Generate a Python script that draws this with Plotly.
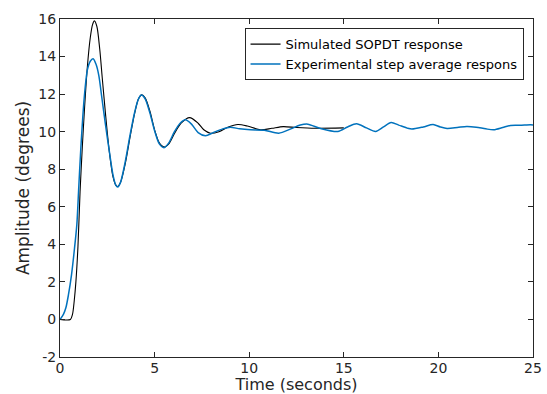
import plotly.graph_objects as go

# Simulated SOPDT response
sim_t = [0, 0.55, 0.66, 0.75, 0.84, 0.95, 1.06, 1.18, 1.3, 1.45, 1.6, 1.72, 1.82, 1.95, 2.1, 2.23,
         2.4, 2.6, 2.8, 2.95, 3.05, 3.2, 3.45, 3.7, 3.95, 4.15, 4.32, 4.5, 4.75, 5.0, 5.25, 5.5,
         5.75, 6.05, 6.4, 6.85, 7.3, 7.6, 7.95, 8.4, 8.9, 9.4, 9.9, 10.6, 11.2, 11.8, 12.5, 13.5, 15.0]
sim_y = [0, 0, 0.27, 0.97, 2.0, 3.9, 6.8, 9.2, 11.3, 13.5, 15.0, 15.7, 15.9, 15.6, 14.4, 12.9,
         11.0, 9.0, 7.6, 7.15, 7.08, 7.3, 8.3, 9.7, 11.0, 11.75, 11.96, 11.8, 11.1, 10.1, 9.4, 9.18,
         9.35, 9.9, 10.45, 10.75, 10.45, 10.1, 9.92, 10.0, 10.25, 10.38, 10.3, 10.1, 10.18, 10.27, 10.22, 10.18, 10.2]

# Experimental step average response
exp_t = [0, 0.18, 0.31, 0.45, 0.61, 0.75, 0.89, 0.98, 1.1, 1.28, 1.45, 1.6, 1.75, 1.9, 2.05, 2.2,
         2.4, 2.6, 2.8, 2.95, 3.05, 3.2, 3.45, 3.7, 3.95, 4.15, 4.3, 4.5, 4.75, 5.0, 5.25, 5.5,
         5.75, 6.05, 6.35, 6.63, 6.95, 7.3, 7.69, 8.1, 8.6, 9.0, 9.5, 10.07, 10.8, 11.56, 12.2,
         12.7, 13.1, 13.77, 14.68, 15.2, 15.67, 16.2, 16.68, 17.1, 17.5, 17.9, 18.35, 18.6, 19.2,
         19.72, 20.1, 20.46, 21.0, 21.5, 22.0, 22.5, 22.93, 23.4, 23.81, 24.3, 24.87, 25.0]
exp_y = [0, 0.27, 0.62, 1.33, 2.39, 3.63, 5.05, 6.8, 9.1, 11.8, 13.3, 13.75, 13.88, 13.6, 13.0, 11.9,
         10.4, 9.0, 7.7, 7.15, 7.05, 7.3, 8.4, 9.8, 11.05, 11.75, 11.95, 11.75, 11.0, 10.05, 9.35, 9.15,
         9.4, 10.0, 10.45, 10.63, 10.4, 9.95, 9.78, 9.95, 10.15, 10.24, 10.15, 10.1, 10.08, 9.92, 10.15,
         10.35, 10.4, 10.17, 10.01, 10.25, 10.42, 10.2, 10.01, 10.25, 10.49, 10.35, 10.19, 10.14, 10.25,
         10.38, 10.25, 10.17, 10.22, 10.28, 10.24, 10.15, 10.1, 10.22, 10.33, 10.34, 10.37, 10.36]

x_ticks = [0, 5, 10, 15, 20, 25]
y_ticks = [-2, 0, 2, 4, 6, 8, 10, 12, 14, 16]

FONT = "DejaVu Sans"
AX = "#262626"

fig = go.Figure()
fig.add_trace(go.Scatter(x=sim_t, y=sim_y, mode="lines", name="Simulated SOPDT response",
                         line=dict(color="#000000", width=1.1, shape="spline", smoothing=0.8)))
fig.add_trace(go.Scatter(x=exp_t, y=exp_y, mode="lines", name="Experimental step average respons",
                         line=dict(color="#0072BD", width=1.5, shape="spline", smoothing=0.8)))

axis_common = dict(showgrid=False, zeroline=False, showline=True, linecolor=AX, linewidth=1,
                   mirror="ticks", ticks="inside", ticklen=5, tickcolor=AX,
                   tickfont=dict(family=FONT, size=14, color=AX), automargin=False)

fig.update_layout(
    width=547, height=394,
    margin=dict(l=60, r=14, t=19, b=37),
    paper_bgcolor="white", plot_bgcolor="white",
    font=dict(family=FONT, color=AX),
    xaxis=dict(range=[0, 25], tickvals=x_ticks, ticktext=[str(v) for v in x_ticks],
               ticklabelstandoff=-2,
               title=dict(text="Time (seconds)", font=dict(family=FONT, size=16, color=AX), standoff=3),
               **axis_common),
    yaxis=dict(range=[-2, 16], tickvals=y_ticks, ticktext=[str(v) for v in y_ticks],
               title=dict(text="Amplitude (degrees)", font=dict(family=FONT, size=17, color=AX), standoff=4),
               **axis_common),
    legend=dict(x=0.98, y=0.973, xanchor="right", yanchor="top",
                bgcolor="white", bordercolor=AX, borderwidth=1,
                font=dict(family=FONT, size=13, color="#000000"),
                itemwidth=30, tracegroupgap=0),
    showlegend=True,
)

fig.write_html("out.html", config={"displayModeBar": False},
               post_script="document.body.style.margin='0';document.body.style.overflow='hidden';")
